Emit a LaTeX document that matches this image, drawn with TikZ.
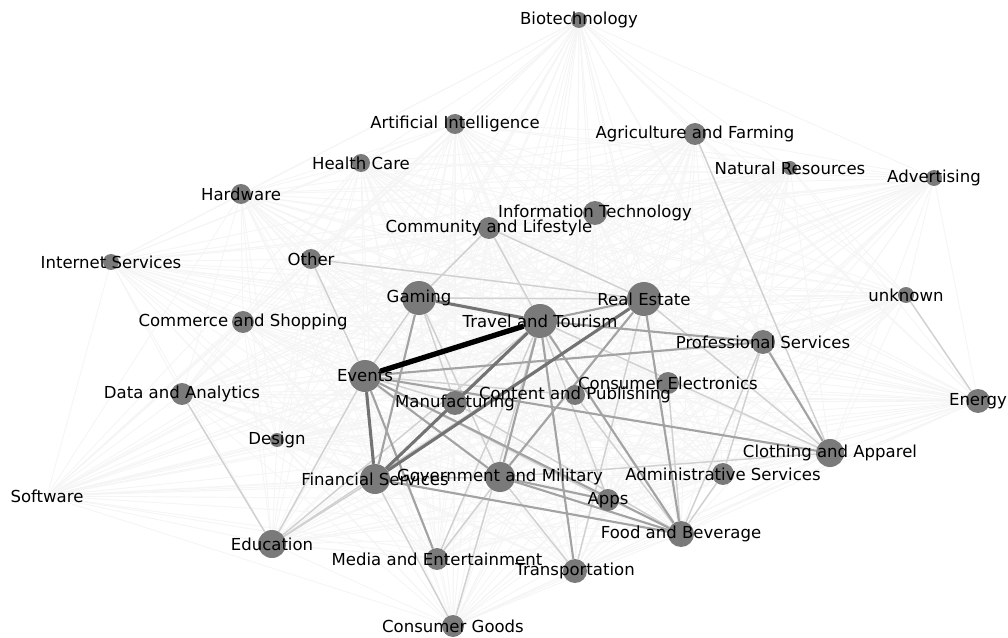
\documentclass[tikz,border=0pt]{standalone}
\usepackage{fontspec}
\setmainfont{DejaVu Sans}
\usetikzlibrary{backgrounds}

\definecolor{nodegray}{RGB}{122,122,122}

\begin{document}
\begin{tikzpicture}[
    x=0.75pt, y=-0.75pt,
    font=\fontsize{12.4}{14}\selectfont,
    dot/.style={circle, fill=nodegray, draw=none, inner sep=0pt},
    faint/.style={draw=black!4, line width=0.7pt},
    wlow/.style={draw=black!18, line width=1.1pt},
    wmid/.style={draw=black!36, line width=1.6pt},
    whigh/.style={draw=black!55, line width=2.3pt},
    wtop/.style={draw=black, line width=4pt}
]

    % --- canvas ---
    \useasboundingbox (0,0) rectangle (1008,638);

    % --- nodes (name/x/y/diameter/label) ---
    \foreach \n/\x/\y/\d/\t in {
        bio/579/20/12/Biotechnology,
        ai/455/124/15/Artificial Intelligence,
        agri/695/134/16.5/Agriculture and Farming,
        health/361/163/13.5/Health Care,
        natres/790/168/10.5/Natural Resources,
        advert/934/178/12/Advertising,
        hardware/241/194/15/Hardware,
        infotech/595/213/18/Information Technology,
        community/489/228/16.5/Community and Lifestyle,
        internet/111/262/12/Internet Services,
        other/311/259/15/Other,
        gaming/419/298/25.5/Gaming,
        realestate/644/299/25.5/Real Estate,
        unknown/906/295/12/unknown,
        commerce/243/322/16.5/Commerce and Shopping,
        travel/540/321/25.5/Travel and Tourism,
        prof/763/342/18/Professional Services,
        events/365/376/24/Events,
        data/182/394/16.5/Data and Analytics,
        conselec/668/383/16.5/Consumer Electronics,
        manuf/455/403/18/Manufacturing,
        content/575/395/15/Content and Publishing,
        energy/978/401/18/Energy,
        design/277/440/10.5/Design,
        clothing/830/453/21/Clothing and Apparel,
        financial/375/479/22.5/Financial Services,
        govt/500/477/22.5/Government and Military,
        admin/723/474/16.5/Administrative Services,
        apps/608/500/16.5/Apps,
        software/47/496/0.1/Software,
        education/272/544/21/Education,
        food/681/534/19.5/Food and Beverage,
        media/437/559/16.5/Media and Entertainment,
        transport/575/571/18/Transportation,
        consgoods/453/626/16.5/Consumer Goods}
        \node[dot, minimum size=\d pt, label={center:\t}] (\n) at (\x,\y) {};

    \def\allnodes{bio,ai,agri,health,natres,advert,hardware,infotech,community,internet,other,gaming,realestate,unknown,commerce,travel,prof,events,data,conselec,manuf,content,energy,design,clothing,financial,govt,admin,apps,software,education,food,media,transport,consgoods}

    % --- edges, under the nodes ---
    \begin{scope}[on background layer]
        % every pair, very light
        \foreach \a [count=\i] in \allnodes {
            \foreach \b [count=\j] in \allnodes {
                \ifnum\j>\i \draw[faint] (\a) -- (\b); \fi
            }
        }

        % light links
        \foreach \a/\b in {community/gaming, community/travel, community/realestate,
            gaming/realestate, gaming/events, other/realestate, other/events,
            events/manuf, events/education, financial/education, education/travel,
            financial/consgoods, govt/transport, govt/media, travel/apps,
            agri/clothing, unknown/energy, prof/food, prof/admin, admin/food,
            conselec/food, events/content, gaming/govt, data/education,
            content/food, manuf/food, media/travel, consgoods/travel,
            realestate/transport, realestate/clothing, events/apps, govt/clothing,
            travel/clothing, gaming/manuf, financial/govt, education/realestate}
            \draw[wlow] (\a) -- (\b);

        % medium links
        \foreach \a/\b in {travel/prof, events/prof, govt/realestate, govt/travel,
            travel/transport, govt/food, events/food, events/clothing,
            realestate/food, travel/food, prof/clothing, manuf/travel,
            gaming/financial, events/media, financial/food, govt/apps,
            events/govt, travel/realestate}
            \draw[wmid] (\a) -- (\b);

        % strong links
        \foreach \a/\b in {gaming/travel, financial/travel, financial/realestate,
            events/financial}
            \draw[whigh] (\a) -- (\b);

        % strongest link
        \draw[wtop] (events) -- (travel);
    \end{scope}

\end{tikzpicture}
\end{document}
